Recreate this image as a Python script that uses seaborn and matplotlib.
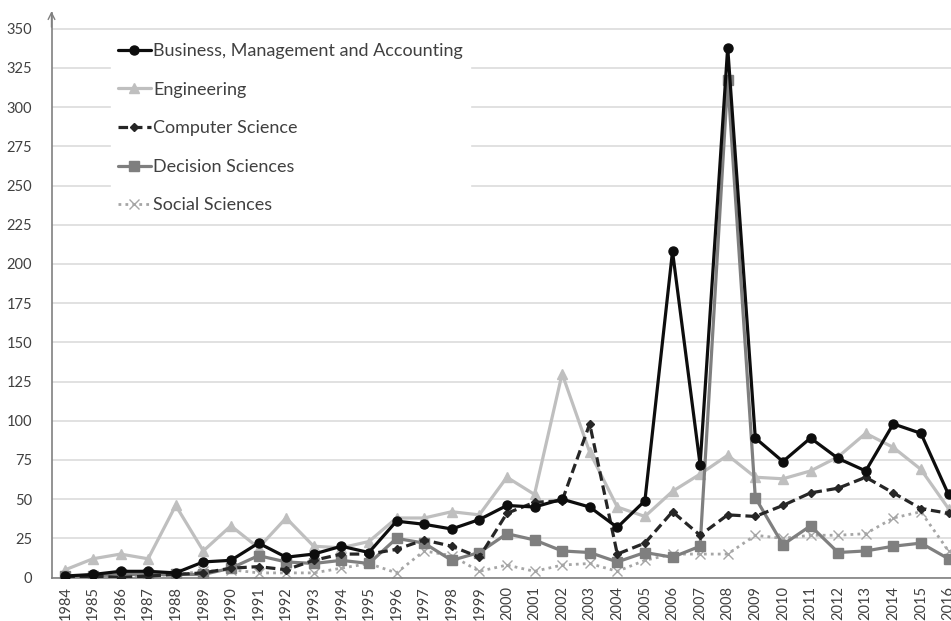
import numpy as np
import seaborn as sns
import matplotlib.pyplot as plt
from matplotlib.ticker import FixedLocator

# Werte
years = list(range(1984, 2017))
business = [1, 2, 4, 4, 3, 10, 11, 22, 13, 15, 20, 16, 36, 34, 31, 37, 46, 45, 50, 45, 32,
            49, 208, 72, 338, 89, 74, 89, 76, 68, 98, 92, 53]
engineering = [5, 12, 15, 12, 46, 17, 33, 19, 38, 20, 19, 23, 38, 38, 42, 40, 64, 53, 130, 80, 45,
               39, 55, 66, 78, 64, 63, 68, 77, 92, 83, 69, 44]
computer = [0, 1, 0, 1, 2, 3, 6, 7, 5, 11, 15, 15, 18, 24, 20, 13, 41, 48, 49, 98, 15,
            22, 42, 27, 40, 39, 46, 54, 57, 64, 54, 44, 41]
decision = [1, 1, 2, 2, 2, 2, 6, 14, 10, 9, 11, 9, 25, 22, 11, 16, 28, 24, 17, 16, 10,
            16, 13, 20, 317, 51, 21, 33, 16, 17, 20, 22, 12]
social = [0, 1, 1, 1, 2, 4, 5, 3, 3, 3, 6, 9, 3, 17, 14, 4, 8, 4, 8, 9, 4,
          11, 15, 15, 15, 27, 25, 27, 27, 28, 38, 42, 17]

subjects = ["Business, Management and Accounting", "Engineering", "Computer Science",
            "Decision Sciences", "Social Sciences"]
series = [business, engineering, computer, decision, social]

# Stil pro Serie: Farbe, Marker, Markergroesse, Linienstil, Linienbreite, zorder
styles = {
    "Business, Management and Accounting": ("#0d0d0d", "o", 6.5, "-", 2.3, 6),
    "Engineering": ("#bfbfbf", "^", 6.5, "-", 2.3, 3),
    "Computer Science": ("#262626", "D", 4.5, (0, (3, 1.5)), 2.3, 5),
    "Decision Sciences": ("#7f7f7f", "s", 6.5, "-", 2.3, 4),
    "Social Sciences": ("#a6a6a6", "x", 6.5, (0, (1, 1.5)), 2.0, 2),
}

sns.set_style("white")
plt.rcParams["font.family"] = ["Lato", "DejaVu Sans"]

fig = plt.figure(figsize=(9.51, 6.21), dpi=100)
ax = fig.add_axes([51.5 / 951, 43.4 / 621, 910.8 / 951, 564.6 / 621])

for name, vals in zip(subjects, series):
    c, m, ms, ls, lw, z = styles[name]
    sns.lineplot(x=years, y=vals, color=c, marker=m, markersize=ms, linestyle=ls,
                 linewidth=lw, markeredgecolor=c, markeredgewidth=1.0, label=name,
                 zorder=z, ax=ax)

ax.set_xlim(1983.5, 2016.5)
ax.set_ylim(0, 360)
ax.yaxis.set_major_locator(FixedLocator(np.arange(0, 351, 25)))
ax.xaxis.set_major_locator(FixedLocator(years))
ax.xaxis.set_minor_locator(FixedLocator(np.arange(1983.5, 2017, 1)))
ax.set_xticklabels([str(y) for y in years], rotation=90)
ax.tick_params(axis="x", which="major", length=0, pad=6, labelsize=10.5, labelcolor="#404040")
ax.tick_params(axis="x", which="minor", length=6, width=1, color="#808080", direction="out")
ax.tick_params(axis="y", length=0, pad=14, labelsize=10.5, labelcolor="#404040")
ax.set_xlabel("")
ax.set_ylabel("")

ax.grid(axis="y", color="#d9d9d9", linewidth=1.1)
ax.set_axisbelow(True)
for s in ["top", "right"]:
    ax.spines[s].set_visible(False)
for s in ["left", "bottom"]:
    ax.spines[s].set_color("#808080")
    ax.spines[s].set_linewidth(1.2)
ax.annotate("", xy=(0, 1.008), xytext=(0, 0.97), xycoords="axes fraction",
            arrowprops=dict(arrowstyle="->", color="#808080", lw=1.0, mutation_scale=12))

handles, labels = ax.get_legend_handles_labels()
leg = ax.legend(handles, labels, loc="upper left", bbox_to_anchor=(111 / 951, 1 - 36 / 621),
                bbox_transform=fig.transFigure, frameon=True, fancybox=False, framealpha=1,
                edgecolor="white", fontsize=13, labelspacing=1.25, handlelength=1.8,
                handletextpad=0.15, borderpad=0.4, borderaxespad=0)
for t in leg.get_texts():
    t.set_color("#404040")

plt.savefig("out.png", dpi=100)
